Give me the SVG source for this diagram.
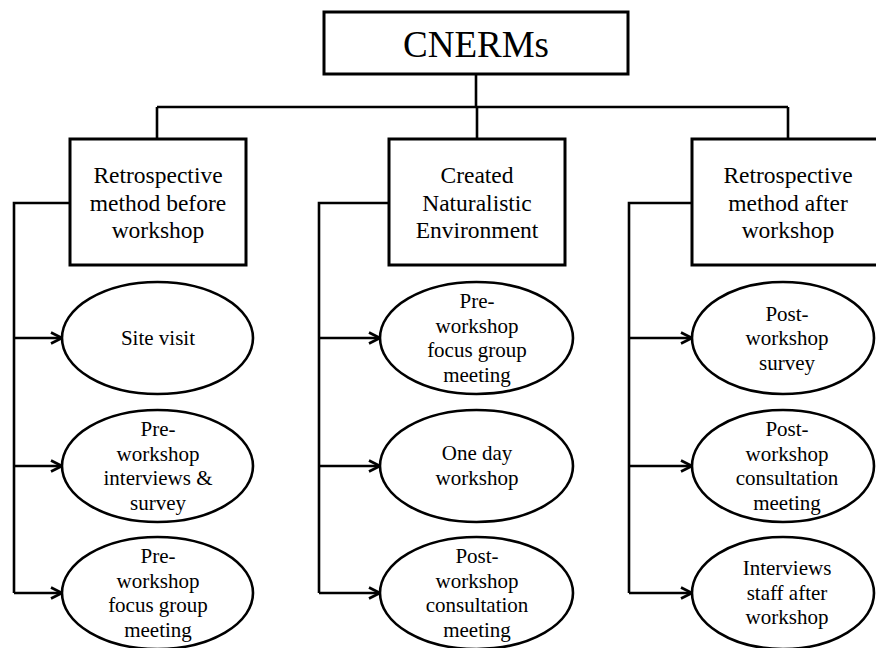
<svg xmlns="http://www.w3.org/2000/svg" width="876" height="648" viewBox="0 0 876 648">
  <style>
    .box { fill: #ffffff; stroke: #000000; stroke-width: 3; }
    .oval { fill: #ffffff; stroke: #000000; stroke-width: 2.6; }
    .wire { fill: none; stroke: #000000; stroke-width: 2.6; }
    .lbl { font-family: "Liberation Serif", "Times New Roman", serif; fill: #000000; text-anchor: middle; }
    .t-root { font-size: 37px; }
    .t-box { font-size: 23.5px; }
    .t-oval { font-size: 21px; }
  </style>
  <defs>
    <marker id="chev" markerUnits="userSpaceOnUse" markerWidth="16" markerHeight="16" refX="12" refY="7" orient="auto">
      <path d="M1,1.5 L12,7 L1,12.5" fill="none" stroke="#000000" stroke-width="2.6"/>
    </marker>
  </defs>
  <rect width="876" height="648" fill="#ffffff"/>

  <!-- connectors -->
  <g id="connectors" class="wire">
    <path d="M476,74 V107"/>
    <path d="M157,107 H788"/>
    <path d="M157,107 V139"/>
    <path d="M477,107 V139"/>
    <path d="M788,107 V139"/>
    <!-- left branch -->
    <path d="M70,203 H14 V593"/>
    <path d="M14,338 H62" marker-end="url(#chev)"/>
    <path d="M14,466 H62" marker-end="url(#chev)"/>
    <path d="M14,593 H62" marker-end="url(#chev)"/>
    <!-- centre branch -->
    <path d="M389,203 H319 V593"/>
    <path d="M319,338 H380" marker-end="url(#chev)"/>
    <path d="M319,466 H380" marker-end="url(#chev)"/>
    <path d="M319,593 H380" marker-end="url(#chev)"/>
    <!-- right branch -->
    <path d="M692,203 H629 V593"/>
    <path d="M629,338 H692" marker-end="url(#chev)"/>
    <path d="M629,466 H692" marker-end="url(#chev)"/>
    <path d="M629,593 H692" marker-end="url(#chev)"/>
  </g>

  <!-- root -->
  <g id="cnerms">
    <rect class="box" x="324" y="12" width="304" height="62"/>
    <text class="lbl t-root" x="476" y="57">CNERMs</text>
  </g>

  <!-- category boxes -->
  <g id="before">
    <rect class="box" x="70" y="139" width="176" height="126"/>
    <text class="lbl t-box" x="158" y="183">Retrospective</text>
    <text class="lbl t-box" x="158" y="211">method before</text>
    <text class="lbl t-box" x="158" y="238">workshop</text>
  </g>
  <g id="created">
    <rect class="box" x="389" y="139" width="176" height="126"/>
    <text class="lbl t-box" x="477" y="183">Created</text>
    <text class="lbl t-box" x="477" y="211">Naturalistic</text>
    <text class="lbl t-box" x="477" y="238">Environment</text>
  </g>
  <g id="after">
    <rect class="box" x="692" y="139" width="192" height="126"/>
    <text class="lbl t-box" x="788" y="183">Retrospective</text>
    <text class="lbl t-box" x="788" y="211">method after</text>
    <text class="lbl t-box" x="788" y="238">workshop</text>
  </g>

  <!-- left column -->
  <g id="site-visit">
    <ellipse class="oval" cx="157.5" cy="338" rx="95.5" ry="56"/>
    <text class="lbl t-oval" x="158" y="345">Site visit</text>
  </g>
  <g id="pre-interviews">
    <ellipse class="oval" cx="157.5" cy="466" rx="95.5" ry="56"/>
    <text class="lbl t-oval" x="158" y="435.5">Pre-</text>
    <text class="lbl t-oval" x="158" y="460.5">workshop</text>
    <text class="lbl t-oval" x="158" y="485">interviews &amp;</text>
    <text class="lbl t-oval" x="158" y="509.5">survey</text>
  </g>
  <g id="pre-focus-left">
    <ellipse class="oval" cx="157.5" cy="593" rx="95.5" ry="56"/>
    <text class="lbl t-oval" x="158" y="562.5">Pre-</text>
    <text class="lbl t-oval" x="158" y="587.5">workshop</text>
    <text class="lbl t-oval" x="158" y="612">focus group</text>
    <text class="lbl t-oval" x="158" y="636.5">meeting</text>
  </g>

  <!-- centre column -->
  <g id="pre-focus-centre">
    <ellipse class="oval" cx="476.5" cy="338" rx="96.5" ry="56"/>
    <text class="lbl t-oval" x="477" y="307.5">Pre-</text>
    <text class="lbl t-oval" x="477" y="332.5">workshop</text>
    <text class="lbl t-oval" x="477" y="357">focus group</text>
    <text class="lbl t-oval" x="477" y="381.5">meeting</text>
  </g>
  <g id="one-day">
    <ellipse class="oval" cx="476.5" cy="466" rx="96.5" ry="56"/>
    <text class="lbl t-oval" x="477" y="460">One day</text>
    <text class="lbl t-oval" x="477" y="485">workshop</text>
  </g>
  <g id="post-consult-centre">
    <ellipse class="oval" cx="476.5" cy="593" rx="96.5" ry="56"/>
    <text class="lbl t-oval" x="477" y="562.5">Post-</text>
    <text class="lbl t-oval" x="477" y="587.5">workshop</text>
    <text class="lbl t-oval" x="477" y="612">consultation</text>
    <text class="lbl t-oval" x="477" y="636.5">meeting</text>
  </g>

  <!-- right column -->
  <g id="post-survey">
    <ellipse class="oval" cx="783" cy="338" rx="91" ry="56"/>
    <text class="lbl t-oval" x="787" y="321">Post-</text>
    <text class="lbl t-oval" x="787" y="345">workshop</text>
    <text class="lbl t-oval" x="787" y="369.5">survey</text>
  </g>
  <g id="post-consult-right">
    <ellipse class="oval" cx="783" cy="466" rx="91" ry="56"/>
    <text class="lbl t-oval" x="787" y="435.5">Post-</text>
    <text class="lbl t-oval" x="787" y="460.5">workshop</text>
    <text class="lbl t-oval" x="787" y="485">consultation</text>
    <text class="lbl t-oval" x="787" y="509.5">meeting</text>
  </g>
  <g id="staff-interviews">
    <ellipse class="oval" cx="783" cy="593" rx="91" ry="56"/>
    <text class="lbl t-oval" x="787" y="575">Interviews</text>
    <text class="lbl t-oval" x="787" y="599.5">staff after</text>
    <text class="lbl t-oval" x="787" y="624">workshop</text>
  </g>
</svg>
